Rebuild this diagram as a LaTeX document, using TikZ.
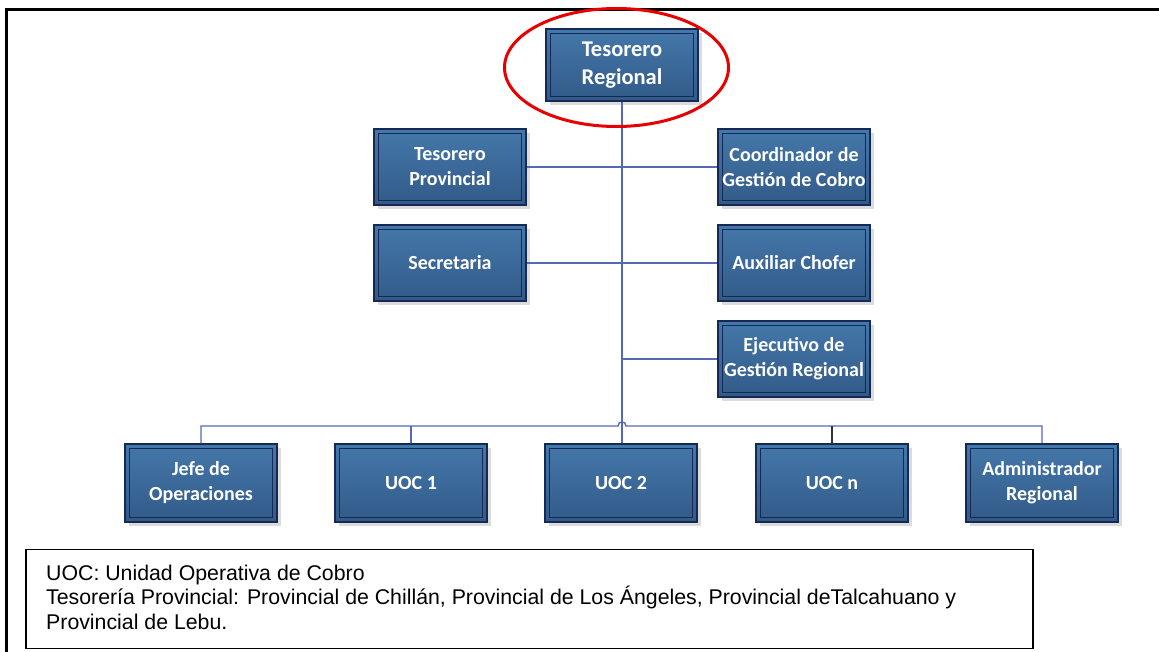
\documentclass[tikz,border=0pt]{standalone}
\usepackage{fontspec}
\newfontfamily\boxfont{Carlito}
\newfontfamily\legfont{Liberation Sans}
\definecolor{boxtop}{RGB}{68,120,170}
\definecolor{boxbot}{RGB}{50,90,136}
\definecolor{boxline}{RGB}{20,42,84}
\definecolor{conncol}{RGB}{84,104,184}
\definecolor{ovalred}{RGB}{230,0,0}
\tikzset{
  orgbox/.style={rectangle, minimum width=152pt, minimum height=76pt, inner sep=2pt,
    top color=boxtop, bottom color=boxbot, draw=boxline, line width=2pt,
    text=white, align=center, font=\boxfont\bfseries\fontsize{20}{25}\selectfont,
    preaction={fill=black!14, draw=none, transform canvas={shift={(4pt,-4pt)}}},
    path picture={\draw[boxline, line width=1.3pt]
        ([shift={(4.5pt,-4.5pt)}]path picture bounding box.north west) rectangle
        ([shift={(-4.5pt,4.5pt)}]path picture bounding box.south east);}
    },
  conn/.style={draw=conncol, line width=1.4pt},
  connk/.style={draw=black!80, line width=1.4pt},
}
\begin{document}
\begin{tikzpicture}[x=1pt,y=-1pt]
\useasboundingbox (0,0) rectangle (1159,652);
% outer frame (top and left)
\draw[black, line width=3pt] (1159,10) -- (6.5,10) -- (6.5,652);
\node[orgbox, minimum height=72pt, font=\boxfont\bfseries\fontsize{22.5}{28}\selectfont] (tr) at (622,65) {Tesorero\\Regional};
\node[orgbox] (tp) at (450,167) {Tesorero\\Provincial};
\node[orgbox] (cg) at (794,167) {Coordinador de\\Gestión de Cobro};
\node[orgbox] (sec) at (450,263) {Secretaria};
\node[orgbox] (aux) at (794,263) {Auxiliar Chofer};
\node[orgbox] (eje) at (794,359) {Ejecutivo de\\Gestión Regional};
\node[orgbox, minimum height=78pt] (jefe) at (201,483) {Jefe de\\Operaciones};
\node[orgbox, minimum height=78pt] (uoc1) at (411,483) {UOC 1};
\node[orgbox, minimum height=78pt] (uoc2) at (621,483) {UOC 2};
\node[orgbox, minimum height=78pt] (uocn) at (832,483) {UOC n};
\node[orgbox, minimum height=78pt] (adm) at (1042,483) {Administrador\\Regional};
\coordinate (hopL) at (618,426);
\coordinate (hopR) at (626,426);
\draw[conn] (tr.south) -- (tr.south |- uoc2.north);
\draw[conn] (tp.east) -- (cg.west);
\draw[conn] (sec.east) -- (aux.west);
\draw[conn] (eje.west) -- (eje.west -| tr.south);
\draw[conn] (jefe.north) |- (hopL) .. controls +(0,-5.5) and +(0,-5.5) .. (hopR) -| (adm.north);
\draw[conn] (uoc1.north) -- (uoc1.north |- hopL);
\draw[connk] (uocn.north) -- (uocn.north |- hopL);
% red oval
\draw[ovalred, line width=3pt] (616.5,67.5) ellipse [x radius=112pt, y radius=59pt];
% legend
\node[draw=black, line width=1.5pt, minimum width=1007pt, minimum height=99pt, anchor=north west, inner sep=0pt] (legbox) at (25,548.5) {};
\node[anchor=north west, inner sep=0pt, align=left, font=\legfont\fontsize{21.3}{24.5}\selectfont] (legtext) at (46,564.5) {UOC: Unidad Operativa de Cobro\\Tesorería Provincial: Provincial de Chillán, Provincial de Los Ángeles, Provincial deTalcahuano y\\Provincial de Lebu.};
\end{tikzpicture}
\end{document}
